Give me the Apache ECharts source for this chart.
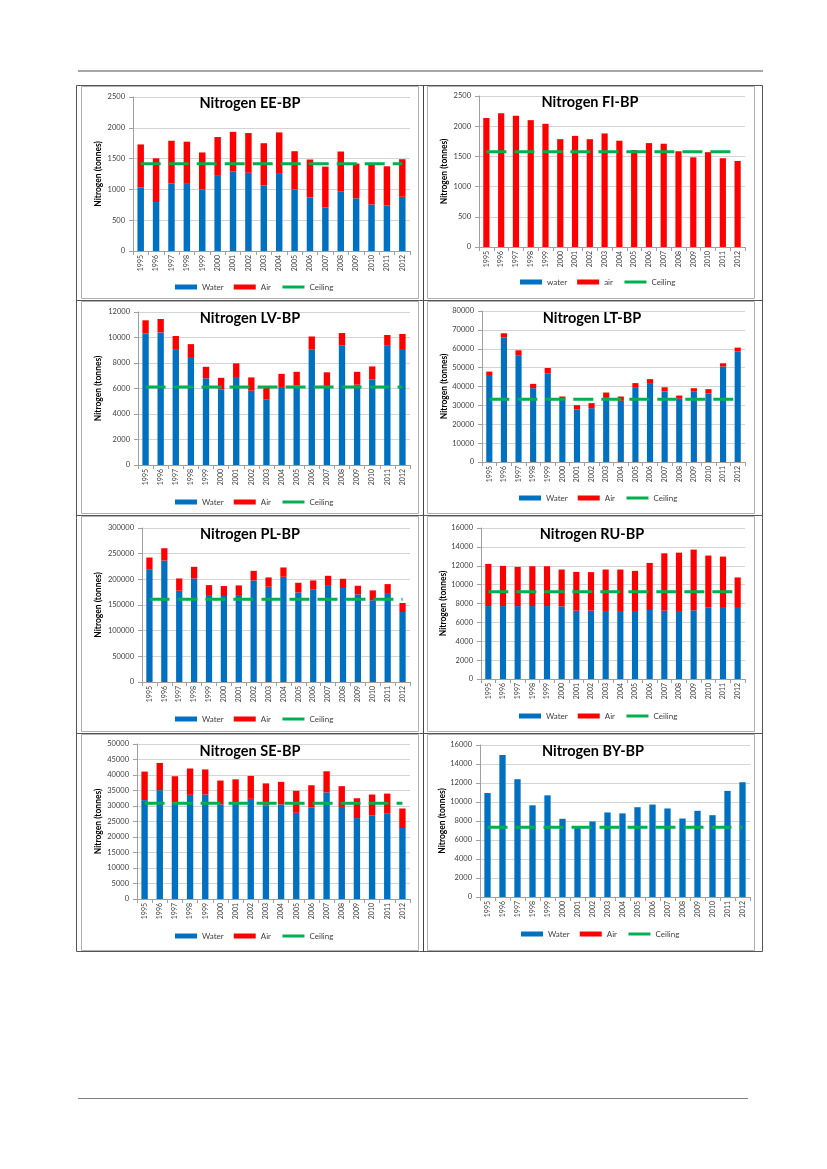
<!DOCTYPE html>
<html><head><meta charset="utf-8">
<script src="https://cdn.jsdelivr.net/npm/echarts@6/dist/echarts.min.js"></script>
<style>html,body{margin:0;padding:0;background:#fff;}#c{width:827px;height:1169px;}</style>
</head><body><div id="c"></div>
<script>
const years = ['1995','1996','1997','1998','1999','2000','2001','2002','2003','2004','2005','2006','2007','2008','2009','2010','2011','2012'];

const eeWater = [1030, 795, 1095, 1090, 1000, 1220, 1290, 1270, 1065, 1265, 1000, 870, 705, 970, 855, 755, 740, 880];
const eeAir = [700, 710, 695, 685, 600, 630, 645, 645, 685, 660, 620, 615, 665, 645, 565, 660, 635, 610];
const eeCeiling = [1415, 1415, 1415, 1415, 1415, 1415, 1415, 1415, 1415, 1415, 1415, 1415, 1415, 1415, 1415, 1415, 1415, 1415];

const fiWater = [0, 0, 0, 0, 0, 0, 0, 0, 0, 0, 0, 0, 0, 0, 0, 0, 0, 0];
const fiAir = [2135, 2215, 2175, 2100, 2040, 1785, 1840, 1785, 1880, 1760, 1605, 1720, 1710, 1585, 1485, 1570, 1470, 1425];
const fiCeiling = [1575, 1575, 1575, 1575, 1575, 1575, 1575, 1575, 1575, 1575, 1575, 1575, 1575, 1575, 1575, 1575, 1575, 1575];

const lvWater = [10300, 10400, 9090, 8470, 6800, 5910, 6900, 5830, 5120, 6120, 6250, 9040, 6170, 9360, 6300, 6690, 9350, 9100];
const lvAir = [1050, 1050, 1030, 1010, 900, 930, 1070, 1040, 960, 1030, 1060, 1040, 1100, 990, 1010, 1040, 850, 1180];
const lvCeiling = [6110, 6110, 6110, 6110, 6110, 6110, 6110, 6110, 6110, 6110, 6110, 6110, 6110, 6110, 6110, 6110, 6110, 6110];

const ltWater = [45600, 65900, 56600, 39100, 47000, 32900, 27800, 28500, 34400, 32400, 39300, 41400, 37400, 33500, 37500, 36300, 50600, 58500];
const ltAir = [2300, 2300, 2600, 2300, 2800, 1800, 2300, 2700, 2400, 2300, 2500, 2500, 2200, 1700, 1600, 2300, 1700, 2100];
const ltCeiling = [33200, 33200, 33200, 33200, 33200, 33200, 33200, 33200, 33200, 33200, 33200, 33200, 33200, 33200, 33200, 33200, 33200, 33200];

const plWater = [219800, 236700, 177800, 201700, 169400, 167500, 169400, 197900, 185600, 205000, 174600, 179800, 188800, 183000, 170700, 159100, 173300, 136400];
const plAir = [22700, 23900, 23900, 22700, 19400, 19400, 18800, 18700, 18100, 18100, 18700, 18100, 18100, 18100, 16800, 19400, 17400, 17500];
const plCeiling = [161000, 161000, 161000, 161000, 161000, 161000, 161000, 161000, 161000, 161000, 161000, 161000, 161000, 161000, 161000, 161000, 161000, 161000];

const ruWater = [7730, 7730, 7730, 7730, 7730, 7700, 7240, 7240, 7210, 7210, 7210, 7310, 7240, 7210, 7280, 7560, 7630, 7630];
const ruAir = [4470, 4260, 4150, 4220, 4220, 3900, 4110, 4080, 4390, 4390, 4250, 4990, 6080, 6180, 6430, 5520, 5340, 3130];
const ruCeiling = [9250, 9250, 9250, 9250, 9250, 9250, 9250, 9250, 9250, 9250, 9250, 9250, 9250, 9250, 9250, 9250, 9250, 9250];

const seWater = [31900, 35100, 31000, 33600, 33700, 30500, 30800, 32300, 30200, 30500, 27800, 29600, 34400, 29700, 26100, 27000, 27500, 22900];
const seAir = [9200, 8800, 8600, 8500, 8100, 7700, 7800, 7400, 7100, 7300, 7100, 7100, 6800, 6700, 6400, 6700, 6500, 6300];
const seCeiling = [30900, 30900, 30900, 30900, 30900, 30900, 30900, 30900, 30900, 30900, 30900, 30900, 30900, 30900, 30900, 30900, 30900, 30900];

const byWater = [10950, 14950, 12400, 9650, 10700, 8230, 7300, 7950, 8900, 8800, 9450, 9730, 9320, 8260, 9070, 8610, 11170, 12080];
const byAir = [0, 0, 0, 0, 0, 0, 0, 0, 0, 0, 0, 0, 0, 0, 0, 0, 0, 0];
const byCeiling = [7350, 7350, 7350, 7350, 7350, 7350, 7350, 7350, 7350, 7350, 7350, 7350, 7350, 7350, 7350, 7350, 7350, 7350];

const yMax = [2500, 2500, 12000, 80000, 300000, 16000, 50000, 16000];
const yStep = [500, 500, 2000, 10000, 50000, 2000, 5000, 2000];
const titles = ['Nitrogen EE-BP', 'Nitrogen FI-BP', 'Nitrogen LV-BP', 'Nitrogen LT-BP', 'Nitrogen PL-BP', 'Nitrogen RU-BP', 'Nitrogen SE-BP', 'Nitrogen BY-BP'];
const legendNames = [
  ['Water', 'Air', 'Ceiling'], ['water', 'air', 'Ceiling'], ['Water', 'Air', 'Ceiling'], ['Water', 'Air', 'Ceiling'],
  ['Water', 'Air', 'Ceiling'], ['Water', 'Air', 'Ceiling'], ['Water', 'Air', 'Ceiling'], ['Water', 'Air', 'Ceiling']
];
const yName = 'Nitrogen (tonnes)';

const dataSets = [
  [eeWater, eeAir, eeCeiling], [fiWater, fiAir, fiCeiling], [lvWater, lvAir, lvCeiling], [ltWater, ltAir, ltCeiling],
  [plWater, plAir, plCeiling], [ruWater, ruAir, ruCeiling], [seWater, seAir, seCeiling], [byWater, byAir, byCeiling]
];

// layout (pixels)
const layout = [
  {L:133, T:97,  R:410, B:251, tx:250, ty:96,  lx:175, ly:288, gap:30},
  {L:479, T:96,  R:745, B:247, tx:590, ty:95,  lx:520, ly:283, gap:30},
  {L:138, T:312, R:410, B:465, tx:250, ty:311, lx:175, ly:503, gap:35},
  {L:482, T:311, R:745, B:462, tx:592, ty:311, lx:519, ly:499, gap:33},
  {L:142, T:528, R:410, B:682, tx:250, ty:527, lx:175, ly:720, gap:39},
  {L:481, T:528, R:745, B:679, tx:592, ty:527, lx:519, ly:717, gap:32},
  {L:137, T:744, R:410, B:899, tx:250, ty:744, lx:175, ly:937, gap:34},
  {L:480, T:745, R:750, B:897, tx:593, ty:744, lx:521, ly:935, gap:31}
];

const FONT = 'Lato, "Open Sans", sans-serif';
const BLUE = '#0070C0', RED = '#FF0000', GREEN = '#00B050';
const AXIS = '#a0a0a0', GRID = '#d4d4d4', LABEL = '#404040';

const option = {
  animation: false,
  backgroundColor: '#fff',
  title: [], legend: [], grid: [], xAxis: [], yAxis: [], series: [],
  graphic: []
};

layout.forEach((p, i) => {
  option.grid.push({left: p.L, top: p.T, width: p.R - p.L, height: p.B - p.T, containLabel: false});
  option.title.push({
    text: titles[i], left: p.tx, top: p.ty, textAlign: 'center', padding: 0,
    textStyle: {fontFamily: FONT, fontWeight: 'bold', fontSize: 14.5, color: '#000'}
  });
  const nm = legendNames[i];
  option.legend.push({
    left: p.lx, top: p.ly - 5, padding: 0, itemWidth: 22, itemHeight: 5, itemGap: 10,
    selectedMode: false,
    textStyle: {fontFamily: FONT, fontSize: 8, color: LABEL, padding: [0, 0, 0, 0]},
    data: [
      {name: nm[0], icon: 'rect'},
      {name: nm[1], icon: 'rect'},
      {name: nm[2], itemStyle: {opacity: 0}, lineStyle: {type: 'solid', width: 3, color: GREEN}}
    ]
  });
  option.xAxis.push({
    type: 'category', gridIndex: i, data: years,
    axisLine: {lineStyle: {color: AXIS, width: 1}},
    axisTick: {show: true, length: 4, interval: 0, lineStyle: {color: AXIS}},
    axisLabel: {interval: 0, rotate: 90, margin: 4, fontFamily: FONT, fontSize: 7, color: LABEL}
  });
  option.yAxis.push({
    type: 'value', gridIndex: i, min: 0, max: yMax[i], interval: yStep[i],
    name: yName, nameLocation: 'middle', nameGap: p.gap, nameRotate: 90,
    nameTextStyle: {fontFamily: FONT, fontWeight: 'bold', fontSize: 8.5, color: '#000'},
    axisLine: {show: true, lineStyle: {color: AXIS, width: 1}},
    axisTick: {show: true, length: 4, lineStyle: {color: AXIS}},
    splitLine: {show: true, lineStyle: {color: GRID, width: 1}},
    axisLabel: {margin: 8, fontFamily: FONT, fontSize: 7.5, color: LABEL, formatter: v => String(v)}
  });
  const d = dataSets[i];
  option.series.push({
    name: nm[0], type: 'bar', xAxisIndex: i, yAxisIndex: i, stack: 's' + i, barWidth: '42%',
    itemStyle: {color: BLUE}, data: d[0]
  });
  option.series.push({
    name: nm[1], type: 'bar', xAxisIndex: i, yAxisIndex: i, stack: 's' + i, barWidth: '42%',
    itemStyle: {color: RED}, data: d[1]
  });
  option.series.push({
    name: nm[2], type: 'line', xAxisIndex: i, yAxisIndex: i, symbol: 'none', z: 5,
    lineStyle: {color: GREEN, width: 3, type: [20, 8]}, itemStyle: {color: GREEN}, data: d[2]
  });
});

// page furniture: header/footer rules and the table frame
const g = option.graphic;
g.push({type: 'rect', shape: {x: 78, y: 70, width: 685, height: 2}, style: {fill: '#a6a6a6'}, silent: true});
g.push({type: 'rect', shape: {x: 78, y: 1098, width: 670, height: 1}, style: {fill: '#808080'}, silent: true});
g.push({type: 'rect', shape: {x: 76.5, y: 85.5, width: 686, height: 866}, style: {fill: 'none', stroke: '#555', lineWidth: 1}, silent: true});
g.push({type: 'line', shape: {x1: 423.5, y1: 86, x2: 423.5, y2: 952}, style: {stroke: '#444', lineWidth: 1}, silent: true});
[300.5, 515.5, 733.5].forEach(y => {
  g.push({type: 'line', shape: {x1: 77, y1: y, x2: 762, y2: y}, style: {stroke: '#555', lineWidth: 1}, silent: true});
});
const rows = [[86, 300], [301, 515], [516, 733], [734, 952]];
rows.forEach(r => {
  g.push({type: 'rect', shape: {x: 81.5, y: r[0] + 0.5, width: 337, height: r[1] - r[0] - 2}, style: {fill: 'none', stroke: '#b0b0b0', lineWidth: 1}, silent: true, z: -1});
  g.push({type: 'rect', shape: {x: 427.5, y: r[0] + 0.5, width: 327, height: r[1] - r[0] - 2}, style: {fill: 'none', stroke: '#b0b0b0', lineWidth: 1}, silent: true, z: -1});
});

const chart = echarts.init(document.getElementById('c'), null, {renderer: 'canvas'});
chart.setOption(option);
</script>
</body></html>
